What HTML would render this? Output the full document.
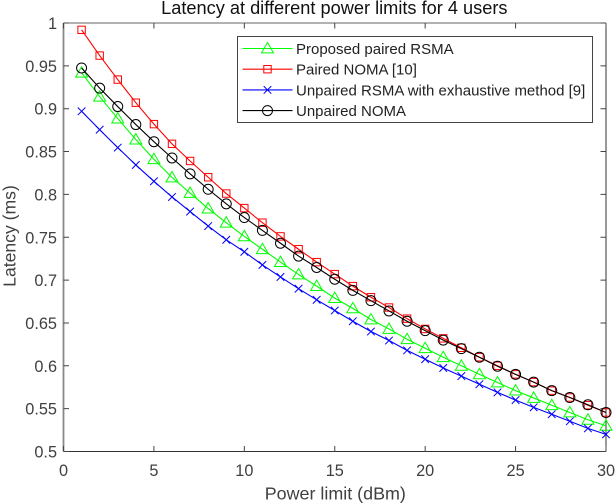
<!DOCTYPE html>
<html>
<head>
<meta charset="utf-8">
<title>Latency at different power limits for 4 users</title>
<style>
html,body{margin:0;padding:0;background:#fff;width:616px;height:504px;overflow:hidden}
svg{display:block;font-family:"Liberation Sans",sans-serif}
</style>
</head>
<body>
<svg id="chart" width="616" height="504" viewBox="0 0 616 504" xmlns="http://www.w3.org/2000/svg"></svg>
<script>
const powerLimits = [1,2,3,4,5,6,7,8,9,10,11,12,13,14,15,16,17,18,19,20,21,22,23,24,25,26,27,28,29,30];
const proposedPairedRsma = [0.942,0.914,0.8885,0.864,0.841,0.8197,0.8017,0.7835,0.767,0.751,0.736,0.721,0.7065,0.693,0.679,0.667,0.654,0.643,0.631,0.6205,0.61,0.6,0.59,0.5805,0.571,0.5625,0.554,0.5455,0.537,0.53];
const pairedNoma = [0.992,0.962,0.934,0.907,0.882,0.859,0.839,0.82,0.801,0.784,0.767,0.751,0.736,0.721,0.707,0.693,0.68,0.668,0.655,0.643,0.632,0.621,0.61,0.6,0.59,0.581,0.571,0.563,0.554,0.5455];
const unpairedRsma = [0.897,0.8755,0.8546,0.8344,0.8153,0.797,0.78,0.763,0.747,0.733,0.7177,0.7037,0.69,0.677,0.6645,0.652,0.64,0.6295,0.618,0.6077,0.5975,0.588,0.5785,0.569,0.56,0.5515,0.5435,0.5353,0.527,0.52];
const unpairedNoma = [0.9475,0.924,0.9025,0.8815,0.8615,0.8425,0.824,0.806,0.789,0.773,0.758,0.743,0.728,0.7147,0.701,0.688,0.676,0.664,0.652,0.641,0.63,0.62,0.61,0.5995,0.59,0.581,0.571,0.563,0.5545,0.5455];
const xTickValues = [0,5,10,15,20,25,30];
const yTickValues = [0.5,0.55,0.6,0.65,0.7,0.75,0.8,0.85,0.9,0.95,1];
const yTickLabels = ['0.5','0.55','0.6','0.65','0.7','0.75','0.8','0.85','0.9','0.95','1'];
const seriesLabels = ['Proposed paired RSMA','Paired NOMA [10]','Unpaired RSMA with exhaustive method [9]','Unpaired NOMA'];

const NS = 'http://www.w3.org/2000/svg';
const svg = document.getElementById('chart');
const plot = {left:63.5, right:606, top:23, bottom:451.5};
const xDomain = [0,30];
const yDomain = [0.5,1];
function xScale(v){ return plot.left + (v-xDomain[0])/(xDomain[1]-xDomain[0])*(plot.right-plot.left); }
function yScale(v){ return plot.bottom - (v-yDomain[0])/(yDomain[1]-yDomain[0])*(plot.bottom-plot.top); }
function mk(tag, attrs, parent){
  const el = document.createElementNS(NS, tag);
  for (const k in attrs) el.setAttribute(k, attrs[k]);
  (parent||svg).appendChild(el);
  return el;
}
function drawMarker(kind, color, x, y, parent){
  if (kind === 'triangle') {
    return mk('polygon',{points:(x-6)+','+(y+4.4)+' '+(x+6)+','+(y+4.4)+' '+x+','+(y-6),fill:'none',stroke:color,'stroke-width':1},parent);
  }
  if (kind === 'square') {
    return mk('rect',{x:x-3.7,y:y-3.7,width:7.4,height:7.4,fill:'none',stroke:color,'stroke-width':1},parent);
  }
  if (kind === 'cross') {
    return mk('path',{d:'M'+(x-3.8)+' '+(y-3.8)+'L'+(x+3.8)+' '+(y+3.8)+'M'+(x-3.8)+' '+(y+3.8)+'L'+(x+3.8)+' '+(y-3.8),fill:'none',stroke:color,'stroke-width':1},parent);
  }
  return mk('circle',{cx:x,cy:y,r:5,fill:'none',stroke:color,'stroke-width':1},parent);
}

/* title */
const title = mk('text',{x:334.3,y:14,'text-anchor':'middle','font-size':'18.2px',fill:'#111'});
title.textContent = 'Latency at different power limits for 4 users';



/* axes box */
const axisBox = mk('g',{});


mk('path',{d:'M'+plot.left+' '+plot.top+'H'+plot.right,stroke:'#666',fill:'none','stroke-width':1},axisBox);
mk('path',{d:'M'+plot.right+' '+plot.top+'V'+plot.bottom,stroke:'#333',fill:'none','stroke-width':1},axisBox);
mk('path',{d:'M'+plot.left+' '+plot.bottom+'H'+plot.right,stroke:'#333',fill:'none','stroke-width':1},axisBox);
mk('path',{d:'M'+plot.left+' '+plot.top+'V'+plot.bottom,stroke:'#888',fill:'none','stroke-width':1.8},axisBox);

/* x ticks */
xTickValues.forEach(function(v){
  const x = xScale(v);
  mk('path',{d:'M'+x+' '+plot.bottom+'v-5.5M'+x+' '+plot.top+'v5.5',stroke:'#444',fill:'none','stroke-width':1},axisBox);
  const t = mk('text',{x:x,y:476,'text-anchor':'middle','font-size':'16.3px',fill:'#404040'});
  t.textContent = String(v);
  
  
});

/* y ticks */
yTickValues.forEach(function(v,i){
  const y = yScale(v);
  mk('path',{d:'M'+plot.left+' '+y+'h5.5M'+plot.right+' '+y+'h-5.5',stroke:'#444',fill:'none','stroke-width':1},axisBox);
  const t = mk('text',{x:57,y:y+6,'text-anchor':'end','font-size':'16.3px',fill:'#404040'});
  t.textContent = yTickLabels[i];
  
  
});

/* axis titles */
const xTitle = mk('text',{x:335.3,y:499.5,'text-anchor':'middle','font-size':'17.9px',fill:'#404040'});
xTitle.textContent = 'Power limit (dBm)';


const yTitle = mk('text',{transform:'translate(15.7,236) rotate(-90)','text-anchor':'middle','font-size':'17.6px',fill:'#404040'});
yTitle.textContent = 'Latency (ms)';



/* series */
const seriesValues = [proposedPairedRsma, pairedNoma, unpairedRsma, unpairedNoma];
const seriesColors = ['#00ff00','#ff0000','#0000ff','#000000'];
const seriesMarkers = ['triangle','square','cross','circle'];
const seriesKeys = ['proposed-paired-rsma','paired-noma','unpaired-rsma','unpaired-noma'];
seriesValues.forEach(function(vals,s){
  const g = mk('g',{});
  
  
  const pts = vals.map(function(v,i){ return xScale(powerLimits[i]).toFixed(2)+','+yScale(v).toFixed(2); }).join(' ');
  mk('polyline',{points:pts,fill:'none',stroke:seriesColors[s],'stroke-width':1.1},g);
  vals.forEach(function(v,i){
    drawMarker(seriesMarkers[s],seriesColors[s],xScale(powerLimits[i]),yScale(v),g);
  });
});

/* legend */
const legend = mk('g',{});


mk('rect',{x:237.5,y:36.5,width:355,height:86,fill:'#fff',stroke:'#444','stroke-width':1},legend);
const legendRowStart = 48.5;
const legendRowStep = 20.7;
seriesLabels.forEach(function(label,i){
  const y = legendRowStart + i*legendRowStep;
  const entry = mk('g',{},legend);
  
  
  mk('line',{x1:242.5,x2:292.5,y1:y,y2:y,stroke:seriesColors[i],'stroke-width':1.1},entry);
  drawMarker(seriesMarkers[i],seriesColors[i],267.5,y,entry);
  const t = mk('text',{x:296,y:y+5.5,'font-size':'15px',fill:'#222'},entry);
  t.textContent = label;
});
</script>
</body>
</html>
